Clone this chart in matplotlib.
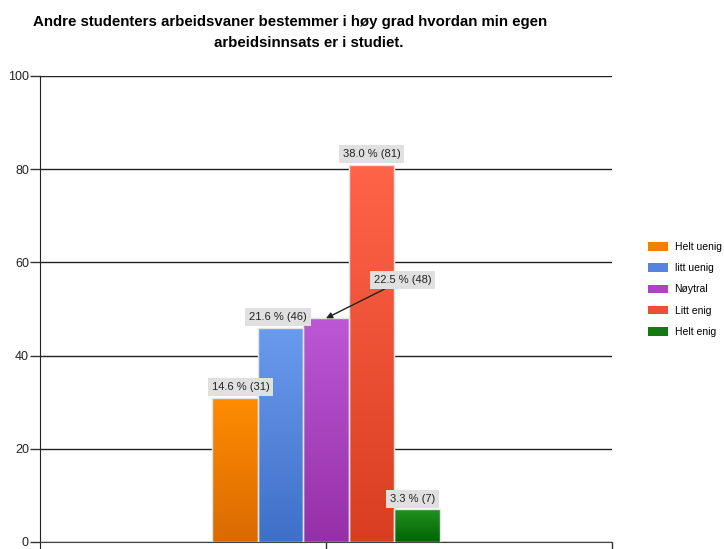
import matplotlib
matplotlib.use("Agg")
import matplotlib.pyplot as plt
import numpy as np
from matplotlib.colors import LinearSegmentedColormap
from matplotlib.patches import Patch

categories = ["Helt uenig", "litt uenig", "Nøytral", "Litt enig", "Helt enig"]
counts = [31, 46, 48, 81, 7]
percents = [14.6, 21.6, 22.5, 38.0, 3.3]
title_line1 = "Andre studenters arbeidsvaner bestemmer i høy grad hvordan min egen"
title_line2 = "arbeidsinnsats er i studiet."
yticks = [0, 20, 40, 60, 80, 100]

top_colors = ["#FF8C00", "#6A9BEE", "#BC58D6", "#FF6449", "#239123"]
bottom_colors = ["#DA6A00", "#3F70C8", "#9530A8", "#DA3E20", "#006400"]
legend_colors = ["#F27F00", "#5584DE", "#AA45C2", "#EC5034", "#137A13"]

plt.rcParams["font.family"] = ["Liberation Sans", "DejaVu Sans"]

fig = plt.figure(figsize=(7.24, 5.49), dpi=100)
ax = fig.add_axes([40/724, 1-542/549, (612-40)/724, (542-76)/549])

w = 0.159
xs = [1 + (i - 2) * w for i in range(len(counts))]
bars = ax.bar(xs, counts, width=w, color="none", edgecolor="#e4e4e4", linewidth=1.0, zorder=3)
grad = np.linspace(1, 0, 256).reshape(-1, 1)
for b, tc, bc in zip(bars, top_colors, bottom_colors):
    cmap = LinearSegmentedColormap.from_list("g", [bc, tc])
    x0, y0 = b.get_x(), b.get_y()
    im = ax.imshow(grad, cmap=cmap, aspect="auto", extent=[x0, x0 + b.get_width(), y0, y0 + b.get_height()],
                   zorder=2, vmin=0, vmax=1)
    im.set_clip_path(b)

ax.set_xlim(0, 2)
ax.set_ylim(0, 100)
ax.set_yticks(yticks)
ax.set_yticklabels([str(t) for t in yticks], fontsize=9, color="#222222")
ax.set_xticks([1, 2])
ax.set_xticklabels([])
ax.tick_params(axis="y", length=7, width=1, color="#333333", pad=1)
ax.tick_params(axis="x", length=7, width=1, color="#333333")
ax.grid(axis="y", color="#222222", linewidth=1, zorder=1)
for s in ["top", "right"]:
    ax.spines[s].set_visible(False)
ax.spines["left"].set_color("#222222")
ax.spines["bottom"].set_color("#444444")
ax.spines["left"].set_bounds(-2, 100)
ax.set_axisbelow(True)

box = dict(boxstyle="square,pad=0.35", fc="#e0e0e0", ec="none")
offsets = [(4, 4), (-2, 4), None, (0, 4), (-3, 4)]
for i, (x, c, p) in enumerate(zip(xs, counts, percents)):
    label = f"{p:.1f} % ({c})"
    if offsets[i] is None:
        ax.annotate(label, xy=(x, c), xytext=(x + w*1.68, c + 8.2),
                    textcoords="data", ha="center", va="center", fontsize=8, color="#222222",
                    bbox=box, zorder=5,
                    arrowprops=dict(arrowstyle="-|>", color="#222222", lw=1, mutation_scale=9,
                                    shrinkA=0, shrinkB=0))
    else:
        ax.annotate(label, xy=(x, c), xytext=offsets[i], textcoords="offset points",
                    ha="center", va="bottom", fontsize=8, color="#222222", bbox=box, zorder=5)

fig.text(290/724, 1-22/549, title_line1, ha="center", va="center", fontsize=10.8, fontweight="bold")
fig.text(309/724, 1-43/549, title_line2, ha="center", va="center", fontsize=10.8, fontweight="bold")

handles = [Patch(facecolor=c, edgecolor="none") for c in legend_colors]
fig.legend(handles, categories, loc="upper left", bbox_to_anchor=(648/724, 1-242/549),
           frameon=False, fontsize=7.5, handlelength=1.9, handleheight=0.85, handletextpad=0.65,
           labelspacing=1.08, borderaxespad=0, borderpad=0)

fig.savefig("out.png", dpi=100)
